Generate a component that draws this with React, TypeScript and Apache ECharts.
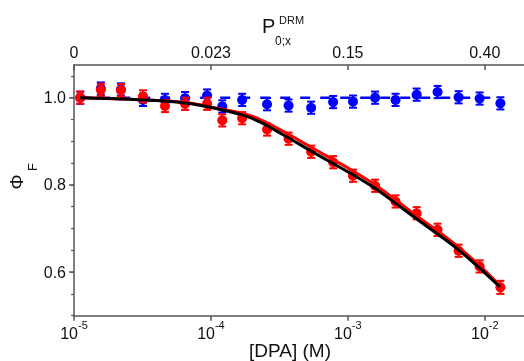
import React, { useEffect, useRef } from "react";
import * as echarts from "echarts";

// Concentration of DPA (M) for each measured point
const concentrations = [
  1.11e-5, 1.57e-5, 2.2e-5, 3.19e-5, 4.62e-5, 6.47e-5, 9.37e-5, 1.21e-4, 1.69e-4, 2.57e-4,
  3.69e-4, 5.39e-4, 7.8e-4, 1.09e-3, 1.58e-3, 2.23e-3, 3.18e-3, 4.52e-3, 6.44e-3, 9.17e-3, 1.3e-2,
];
const redValues = [
  1.0, 1.018, 1.017, 1.003, 0.981, 0.986, 0.986, 0.948, 0.953, 0.927, 0.906, 0.876, 0.852, 0.821,
  0.798, 0.762, 0.735, 0.697, 0.649, 0.613, 0.565,
];
const redErrors = [
  0.014, 0.014, 0.014, 0.014, 0.014, 0.014, 0.014, 0.014, 0.014, 0.014, 0.014, 0.014, 0.014, 0.014,
  0.014, 0.014, 0.014, 0.014, 0.014, 0.014, 0.015,
];
const blueValues = [
  1.0, 1.021, 1.019, 0.995, 0.995, 0.999, 1.005, 0.98, 0.995, 0.985, 0.982, 0.977, 0.99, 0.991, 1.0,
  0.995, 1.007, 1.013, 1.001, 0.998, 0.987,
];
const blueErrors = [
  0.014, 0.014, 0.014, 0.014, 0.014, 0.014, 0.014, 0.014, 0.014, 0.014, 0.014, 0.014, 0.014, 0.014,
  0.014, 0.014, 0.014, 0.014, 0.014, 0.014, 0.014,
];
const blueFitX = [1.11e-5, 1.3e-2];
const blueFitY = [1.0, 1.0];

// fitted curves
const fitX = [
  1.11e-5, 3.19e-5, 6.47e-5, 9.85e-5, 1.71e-4, 2.29e-4, 3.37e-4, 5.3e-4, 7.4e-4, 1.04e-3, 1.53e-3,
  2.25e-3, 3.15e-3, 4.49e-3, 6.49e-3, 9.25e-3, 1.29e-2,
];
const blackFitY = [
  1.0, 0.995, 0.988, 0.978, 0.96, 0.944, 0.915, 0.879, 0.853, 0.827, 0.795, 0.757, 0.723, 0.688,
  0.65, 0.608, 0.566,
];
const redFitY = [
  1.0, 0.995, 0.989, 0.979, 0.964, 0.95, 0.923, 0.888, 0.862, 0.836, 0.803, 0.765, 0.73, 0.695, 0.656,
  0.614, 0.569,
];

// top axis: P_{0;x}^{DRM} at each decade of [DPA]
const topDecades = [-5, -4, -3, -2];
const topTickLabels = ["0", "0.023", "0.15", "0.40"];
const yMajorTicks = [0.6, 0.8, 1.0];
const yMinorTicks = [0.5, 0.55, 0.6, 0.65, 0.7, 0.75, 0.8, 0.85, 0.9, 0.95, 1.0, 1.05];

const FONT = "Liberation Sans, Arial, sans-serif";
const AXIS_COLOR = "#555";

function errorSeries(values: number[], errors: number[], color: string, z: number) {
  return {
    type: "custom",
    coordinateSystem: "cartesian2d",
    z,
    encode: { x: 0, y: 1 },
    data: concentrations.map((c, i) => [c, values[i], errors[i]]),
    renderItem: (params: any, api: any) => {
      const x = api.value(0);
      const y = api.value(1);
      const e = api.value(2);
      const top = api.coord([x, y + e]);
      const bot = api.coord([x, y - e]);
      const w = 4;
      const style = { stroke: color, lineWidth: 2 };
      return {
        type: "group",
        children: [
          { type: "line", shape: { x1: top[0], y1: top[1], x2: bot[0], y2: bot[1] }, style },
          { type: "line", shape: { x1: top[0] - w, y1: top[1], x2: top[0] + w, y2: top[1] }, style },
          { type: "line", shape: { x1: bot[0] - w, y1: bot[1], x2: bot[0] + w, y2: bot[1] }, style },
        ],
      };
    },
  };
}

export default function App() {
  const ref = useRef<HTMLDivElement>(null);
  useEffect(() => {
    if (!ref.current) return;
    const chart = echarts.init(ref.current, null, { renderer: "svg" });
    const xMin = 1e-5;
    const xMax = 0.02;
    const option: any = {
      animation: false,
      textStyle: { fontFamily: FONT },
      grid: { left: 74, top: 65, right: -2, bottom: 45.3, containLabel: false, outerBoundsMode: "none" },
      xAxis: [
        {
          type: "log",
          logBase: 10,
          min: xMin,
          max: xMax,
          position: "bottom",
          axisLine: { show: true, lineStyle: { color: AXIS_COLOR, width: 1.5 } },
          axisTick: { show: true, inside: false, length: 5, lineStyle: { color: AXIS_COLOR, width: 1.5 } },
          splitLine: { show: false },
          minorTick: { show: false },
          axisLabel: {
            margin: 4,
            color: "#111",
            showMaxLabel: false,
            formatter: (v: number) => `{b|10}{s|${Math.round(Math.log10(v))}}`,
            rich: {
              b: { fontSize: 16, fontFamily: FONT, color: "#111", padding: [6, 0, 0, 0], verticalAlign: "bottom" },
              s: { fontSize: 11, fontFamily: FONT, color: "#111", verticalAlign: "top", lineHeight: 12 },
            },
          },
        },
        {
          type: "log",
          logBase: 10,
          min: xMin,
          max: xMax,
          position: "top",
          axisLine: { show: true, lineStyle: { color: AXIS_COLOR, width: 1.5 } },
          axisTick: { show: true, inside: true, length: 5, lineStyle: { color: AXIS_COLOR, width: 1.5 } },
          splitLine: { show: false },
          axisLabel: {
            margin: 5,
            fontSize: 16,
            fontFamily: FONT,
            color: "#111",
            showMaxLabel: false,
            formatter: (v: number) => {
              const d = Math.round(Math.log10(v));
              const i = topDecades.indexOf(d);
              return i >= 0 ? topTickLabels[i] : "";
            },
          },
        },
      ],
      yAxis: [
        {
          type: "value",
          min: 0.5,
          max: 1.075,
          position: "left",
          axisLine: { show: true, lineStyle: { color: AXIS_COLOR, width: 1.5 } },
          axisTick: { show: true, inside: false, length: 5, customValues: yMajorTicks, lineStyle: { color: AXIS_COLOR, width: 1.5 } },
          splitLine: { show: false },
          axisLabel: {
            margin: 8,
            fontSize: 16,
            fontFamily: FONT,
            color: "#111",
            customValues: yMajorTicks,
            formatter: (v: number) => v.toFixed(1),
          },
        },
        {
          type: "value",
          min: 0.5,
          max: 1.075,
          position: "left",
          axisLine: { show: false },
          axisTick: { show: true, inside: false, length: 3, customValues: yMinorTicks, lineStyle: { color: AXIS_COLOR, width: 1.2 } },
          splitLine: { show: false },
          axisLabel: { show: false },
        },
      ],
      series: [
        {
          type: "line",
          z: 1,
          data: blueFitX.map((x, i) => [x, blueFitY[i]]),
          symbol: "none",
          lineStyle: { color: "#0000ff", width: 2.5, type: [10, 10] },
        },
        errorSeries(blueValues, blueErrors, "#0000ff", 2),
        {
          type: "scatter",
          z: 3,
          data: concentrations.map((c, i) => [c, blueValues[i]]),
          symbol: "circle",
          symbolSize: 10,
          itemStyle: { color: "#0000ff", opacity: 1 },
        },
        errorSeries(redValues, redErrors, "#ff0000", 4),
        {
          type: "scatter",
          z: 5,
          data: concentrations.map((c, i) => [c, redValues[i]]),
          symbol: "circle",
          symbolSize: 10,
          itemStyle: { color: "#ff0000", opacity: 1 },
        },
        {
          type: "line",
          z: 6,
          smooth: 0.4,
          data: fitX.map((x, i) => [x, redFitY[i]]),
          symbol: "none",
          lineStyle: { color: "#ff0000", width: 3 },
        },
        {
          type: "line",
          z: 7,
          smooth: 0.4,
          data: fitX.map((x, i) => [x, blackFitY[i]]),
          symbol: "none",
          lineStyle: { color: "#000000", width: 3 },
        },
      ],
      graphic: [
        {
          type: "text",
          x: 290,
          y: 350,
          style: { text: "[DPA] (M)", fontSize: 19, fontFamily: FONT, fill: "#111", align: "center", verticalAlign: "middle" },
        },
        {
          type: "text",
          x: 262,
          y: 36,
          style: { text: "P", fontSize: 20, fontFamily: FONT, fill: "#111", align: "left", verticalAlign: "bottom" },
        },
        {
          type: "text",
          x: 279,
          y: 25,
          style: { text: "DRM", fontSize: 11, fontFamily: FONT, fill: "#111", align: "left", verticalAlign: "bottom" },
        },
        {
          type: "text",
          x: 275,
          y: 47,
          style: { text: "0;x", fontSize: 12, fontFamily: FONT, fill: "#111", align: "left", verticalAlign: "bottom" },
        },
        {
          type: "group",
          x: 16,
          y: 182,
          rotation: Math.PI / 2,
          children: [
            {
              type: "text",
              x: 0,
              y: 0,
              style: { text: "Φ", fontSize: 19, fontFamily: FONT, fill: "#111", align: "center", verticalAlign: "middle" },
            },
            {
              type: "text",
              x: 15,
              y: 16,
              style: { text: "F", fontSize: 13, fontFamily: FONT, fill: "#111", align: "center", verticalAlign: "middle" },
            },
          ],
        },
      ],
    };
    chart.setOption(option);
    return () => chart.dispose();
  }, []);
  return <div ref={ref} style={{ position: "fixed", left: 0, top: 0, width: 524, height: 361 }} />;
}
